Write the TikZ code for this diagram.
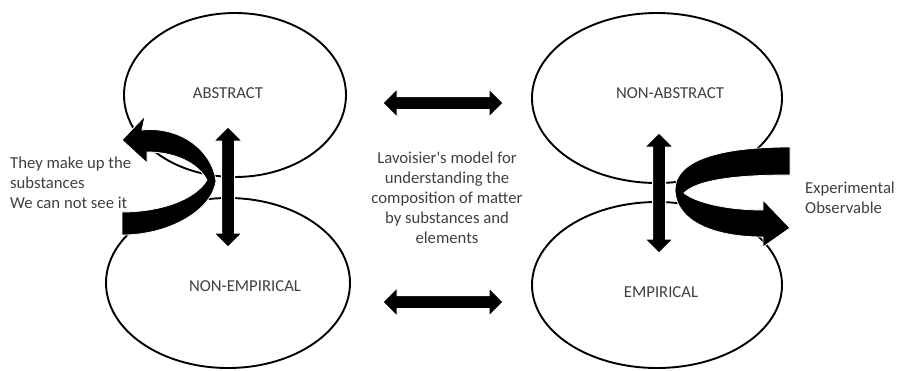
\documentclass[tikz,border=0pt]{standalone}
\usepackage{fontspec}
\setmainfont{Carlito}[Ligatures=TeXOff]
\usetikzlibrary{shapes.geometric,shapes.arrows}
\definecolor{txt}{gray}{0.25}
\tikzset{
  blob/.style={ellipse, draw=black, line width=1.9pt, inner sep=0pt},
  dblarrow/.style={double arrow, fill=black, draw=white, line width=1pt,
    inner sep=0pt, inner ysep=6pt, minimum height=120pt,
    double arrow head extend=7.5pt},
  curvy/.style={fill=black, draw=white, line width=0.8pt},
  lbl/.style={text=txt, font=\fontsize{16.7}{20}\selectfont, inner sep=0pt}
}
\begin{document}
\begin{tikzpicture}[x=1pt,y=-1pt]
\useasboundingbox (0,0) rectangle (899,370);
% ellipses
\node[blob, minimum width=222, minimum height=164] (abs) at (235,95) {};
\node[blob, minimum width=244, minimum height=170] (nemp) at (228,283) {};
\node[blob, minimum width=250, minimum height=170] (nabs) at (657,98) {};
\node[blob, minimum width=250, minimum height=166] (emp) at (657,285) {};
% curved arrows
\fill[curvy] (122,140) -- (145,116) -- (142,130)
  .. controls (180,126) and (212,150) .. (216,181)
  .. controls (212,210) and (170,235) .. (122,235)
  -- (122,212)
  .. controls (160,212) and (195,200) .. (207,180)
  .. controls (198,163) and (175,152) .. (147,152)
  -- (147,163) -- cycle;
\fill[curvy] (790,147) .. controls (720,147) and (675,160) .. (675,190)
  .. controls (676,222) and (715,237) .. (763,237)
  -- (763,247) -- (790,228) -- (763,200) -- (763,210)
  .. controls (725,210) and (695,202) .. (684,193)
  .. controls (697,180) and (735,175) .. (790,175) -- cycle;
% straight double arrows
\node[dblarrow] (h1) at (443,103) {};
\node[dblarrow] (h2) at (443,302) {};
\node[dblarrow, rotate=90] (v1) at (228,187) {};
\node[dblarrow, rotate=90] (v2) at (659,193) {};
% labels
\node[lbl] (tabs) at (228,93) {ABSTRACT};
\node[lbl] (tnabs) at (670,93) {NON-ABSTRACT};
\node[lbl] (tnemp) at (245,286) {NON-EMPIRICAL};
\node[lbl] (temp) at (661,292) {EMPIRICAL};
\node[lbl, align=center] (mid) at (447,198) {Lavoisier's model for\\understanding the\\composition of matter\\by substances and\\elements};
\node[lbl, align=left, anchor=west] (left) at (10,183) {They make up the\\substances\\We can not see it};
\node[lbl, align=left, anchor=west] (right) at (805,198) {Experimental\\Observable};
\end{tikzpicture}
\end{document}
